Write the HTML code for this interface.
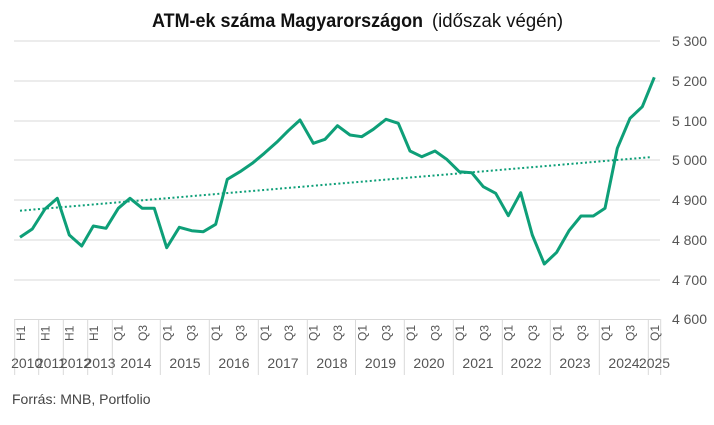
<!DOCTYPE html>
<html><head><meta charset="utf-8"><style>
html,body{margin:0;padding:0;background:#fff;}
svg{display:block;font-family:"Liberation Sans",sans-serif;}
</style></head><body>
<svg width="714" height="425" viewBox="0 0 714 425">
<text x="152" y="27" font-size="19" font-weight="bold" fill="#111" textLength="271" lengthAdjust="spacingAndGlyphs">ATM-ek száma Magyarországon</text>
<text x="432" y="27" font-size="19" fill="#111" textLength="131" lengthAdjust="spacingAndGlyphs">(időszak végén)</text>
<g stroke="#d9d9d9" stroke-width="1">
<line x1="14" x2="660" y1="41" y2="41"/><line x1="14" x2="660" y1="81" y2="81"/>
<line x1="14" x2="660" y1="121" y2="121"/><line x1="14" x2="660" y1="160" y2="160"/>
<line x1="14" x2="660" y1="200" y2="200"/><line x1="14" x2="660" y1="240" y2="240"/>
<line x1="14" x2="660" y1="280" y2="280"/><line x1="14" x2="660" y1="319.5" y2="319.5"/>
<g>
<line x1="14.7" x2="14.7" y1="319" y2="375"/><line x1="38.7" x2="38.7" y1="319" y2="375"/>
<line x1="63.3" x2="63.3" y1="319" y2="375"/><line x1="87.7" x2="87.7" y1="319" y2="375"/>
<line x1="112.3" x2="112.3" y1="319" y2="375"/><line x1="160.3" x2="160.3" y1="319" y2="375"/>
<line x1="209.3" x2="209.3" y1="319" y2="375"/><line x1="258.3" x2="258.3" y1="319" y2="375"/>
<line x1="307.3" x2="307.3" y1="319" y2="375"/><line x1="355.5" x2="355.5" y1="319" y2="375"/>
<line x1="404.3" x2="404.3" y1="319" y2="375"/><line x1="453.3" x2="453.3" y1="319" y2="375"/>
<line x1="502.3" x2="502.3" y1="319" y2="375"/><line x1="550.3" x2="550.3" y1="319" y2="375"/>
<line x1="599.3" x2="599.3" y1="319" y2="375"/><line x1="648.3" x2="648.3" y1="319" y2="375"/>
<line x1="660.7" x2="660.7" y1="319" y2="375"/>
</g></g>
<g font-size="14" fill="#555" text-anchor="end">
<text x="707" y="46">5 300</text><text x="707" y="86">5 200</text><text x="707" y="126">5 100</text>
<text x="707" y="165">5 000</text><text x="707" y="205">4 900</text><text x="707" y="245">4 800</text>
<text x="707" y="285">4 700</text><text x="707" y="324">4 600</text>
</g>
<g font-size="12" fill="#555">
<text transform="translate(25,341) rotate(-90)">H1</text>
<text transform="translate(49.4,341) rotate(-90)">H1</text>
<text transform="translate(73.7,341) rotate(-90)">H1</text>
<text transform="translate(98.1,341) rotate(-90)">H1</text>
<text transform="translate(122.5,341) rotate(-90)">Q1</text><text transform="translate(146.9,341) rotate(-90)">Q3</text>
<text transform="translate(171.3,341) rotate(-90)">Q1</text><text transform="translate(195.7,341) rotate(-90)">Q3</text>
<text transform="translate(220,341) rotate(-90)">Q1</text><text transform="translate(244.4,341) rotate(-90)">Q3</text>
<text transform="translate(268.8,341) rotate(-90)">Q1</text><text transform="translate(293.2,341) rotate(-90)">Q3</text>
<text transform="translate(317.6,341) rotate(-90)">Q1</text><text transform="translate(342,341) rotate(-90)">Q3</text>
<text transform="translate(366.4,341) rotate(-90)">Q1</text><text transform="translate(390.7,341) rotate(-90)">Q3</text>
<text transform="translate(415.1,341) rotate(-90)">Q1</text><text transform="translate(439.5,341) rotate(-90)">Q3</text>
<text transform="translate(463.9,341) rotate(-90)">Q1</text><text transform="translate(488.3,341) rotate(-90)">Q3</text>
<text transform="translate(512.7,341) rotate(-90)">Q1</text><text transform="translate(537,341) rotate(-90)">Q3</text>
<text transform="translate(561.4,341) rotate(-90)">Q1</text><text transform="translate(585.8,341) rotate(-90)">Q3</text>
<text transform="translate(610.2,341) rotate(-90)">Q1</text><text transform="translate(634.6,341) rotate(-90)">Q3</text>
<text transform="translate(659,341) rotate(-90)">Q1</text>
</g>
<g font-size="14" fill="#555" text-anchor="middle">
<text x="26.7" y="368">2010</text><text x="50.9" y="368">2011</text><text x="75.5" y="368">2012</text>
<text x="100" y="368">2013</text><text x="136" y="368">2014</text><text x="185" y="368">2015</text>
<text x="234" y="368">2016</text><text x="283" y="368">2017</text><text x="332" y="368">2018</text>
<text x="380.5" y="368">2019</text><text x="429" y="368">2020</text><text x="478" y="368">2021</text>
<text x="526" y="368">2022</text><text x="575" y="368">2023</text><text x="624" y="368">2024</text>
<text x="654.5" y="368">2025</text>
</g>
<line x1="20" y1="210.7" x2="652" y2="157" stroke="#0e9f78" stroke-width="2" stroke-dasharray="2,2.5"/>
<polyline fill="none" stroke="#0e9f78" stroke-width="3" stroke-linejoin="round" points="20,237.3 32.3,229 45,209 57.3,198.3 69.3,235 81.7,246 93.3,226 106,228.3 118.3,208.3 130,198.3 142.3,208.3 154.3,208.3 166.7,247.7 179.3,227.3 191.7,230.7 203.3,231.7 215.7,224.3 227.3,179.3 240,171.7 252.3,163.3 264.3,153.3 276.7,142.3 288.3,130.7 300,120 313.3,143.3 325,139.3 337.5,125.7 350,135 361.7,136.7 373.3,129.3 386,119.3 398.3,123.3 410,151 421.7,156.7 435,151 446.7,159.3 459.3,171.7 471.7,172.7 483.3,186.7 495.7,193.3 508.3,215.7 520.7,192.7 532.3,235 544.3,264 556.7,252.3 569,230.7 581,216 593.3,216 605,208.3 617.3,148.3 630,118.3 642.3,106.7 654.3,77.3"/>
<text x="12" y="404" font-size="14" fill="#444">Forrás: MNB, Portfolio</text>
</svg>
</body></html>
